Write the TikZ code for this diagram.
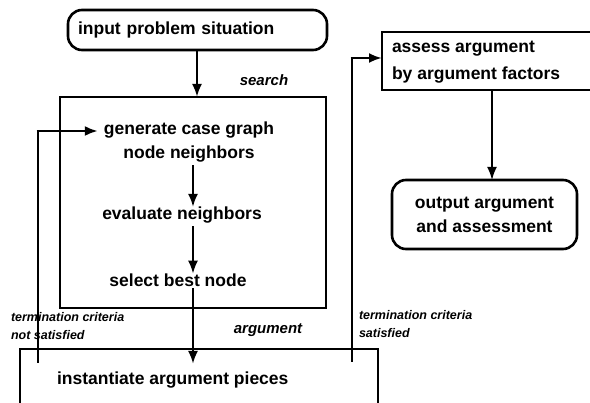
\documentclass[tikz,border=0pt]{standalone}
\usepackage{fontspec}
\setmainfont{Liberation Sans}
\usetikzlibrary{arrows.meta}
\begin{document}
\begin{tikzpicture}[x=1pt,y=-1pt,
  every node/.style={inner sep=0pt,outer sep=0pt},
  main/.style={font=\fontsize{17.5}{24}\selectfont\bfseries},
  lab/.style={font=\fontsize{15}{17}\selectfont\bfseries\itshape},
  small/.style={font=\fontsize{12.5}{18}\selectfont\bfseries\itshape,align=left,anchor=west},
  boxline/.style={line width=2.6pt},
  conn/.style={line width=2.6pt,-{Latex[length=13pt,width=10pt]}},
  thin conn/.style={line width=1.8pt,-{Latex[length=13pt,width=10pt]}},
  plain/.style={line width=2.6pt}]
\useasboundingbox (0,0) rectangle (590,403);
\clip (0,0) rectangle (590,403);
% boxes
\node[boxline,draw,rounded corners=14pt,minimum width=259pt,minimum height=40pt,
      main,text width=239pt,align=left] (inp) at (197.5,30) {input problem situation};
\node[boxline,draw,minimum width=266pt,minimum height=211pt] (srch) at (193,202.5) {};
\node[boxline,draw,minimum width=358pt,minimum height=80pt] (arg) at (199,389) {};
\node[main,anchor=west] (argtxt) at (57,380) {instantiate argument pieces};
\node[boxline,draw,minimum width=220pt,minimum height=58pt,anchor=north west] (ass) at (382,32) {};
\node[main,align=left,anchor=north west,font=\fontsize{17.5}{27}\selectfont\bfseries] (asstxt) at (392,41) {assess argument\\by argument factors};
\node[boxline,draw,rounded corners=14pt,minimum width=185pt,minimum height=69pt,
      main,align=center] (out) at (484.5,214.5) {output argument\\and assessment};
% inner texts
\node[main,align=center] (gen) at (189,142) {generate case graph\\node neighbors};
\node[main] (eval) at (182,215) {evaluate neighbors};
\node[main] (sel) at (178,280) {select best node};
% labels
\node[lab] (ls) at (264,80) {search};
\node[lab] (la) at (268,330) {argument};
\node[small] (tn) at (11,326) {termination criteria\\not satisfied};
\node[small] (tsat) at (359,324) {termination criteria\\satisfied};
% connectors
\coordinate (c1) at (38,363);
\coordinate (c2) at (352,362);
\draw[conn] (inp.south -| 197,0) -- (srch.north -| 197,0);
\draw[thin conn] (gen.south -| 193,0) ++(0,3) -- (eval.north -| 193,0);
\draw[thin conn] (eval.south -| 193,0) ++(0,3) -- (sel.north -| 193,0);
\draw[conn] (sel.south -| 193,0) ++(0,2) -- (193,364);
\draw[plain] (c1) -- (38,131);
\draw[conn] (36.7,131) -- ([xshift=-6pt]gen.west |- 0,131);
\draw[plain] (c2) -- (352,58);
\draw[conn] (350.7,58) -- (ass.west |- 0,58);
\draw[thin conn] (492,90) -- (out.north -| 492,0);
\end{tikzpicture}
\end{document}
